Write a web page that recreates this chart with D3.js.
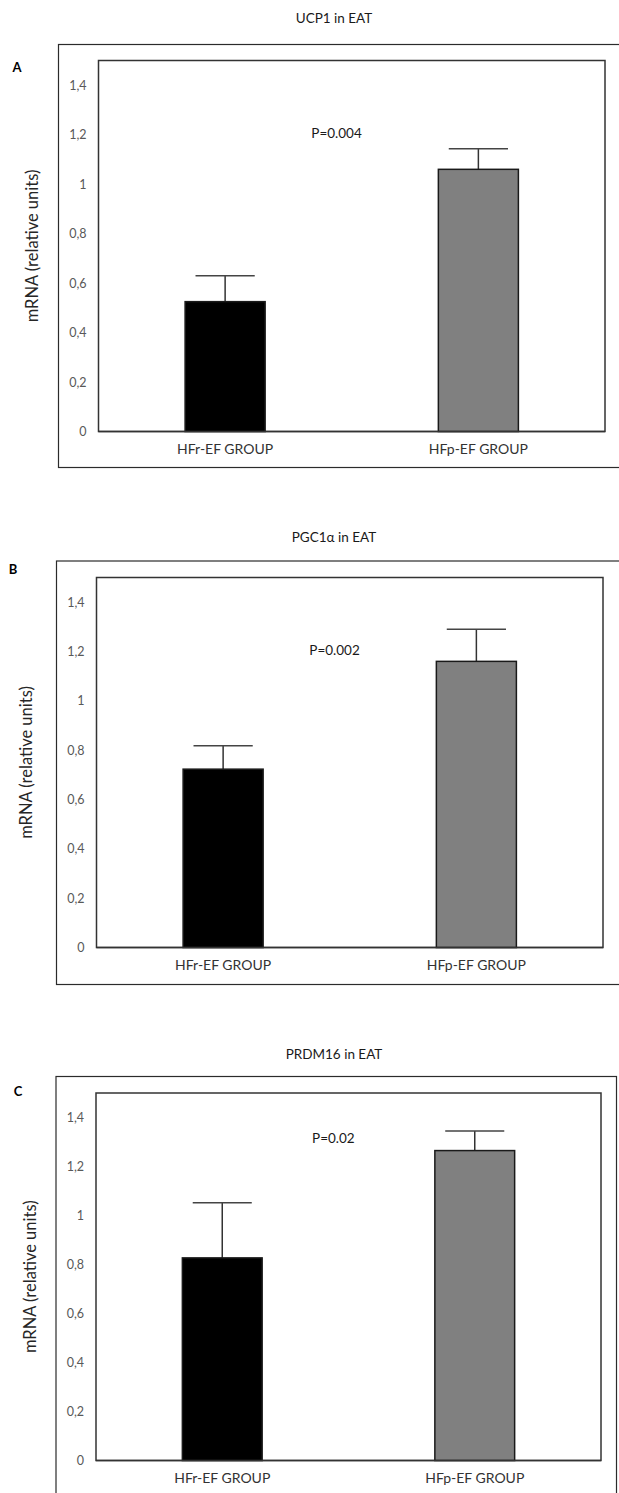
<!DOCTYPE html>
<html>
<head>
<meta charset="utf-8">
<script src="https://cdn.jsdelivr.net/npm/d3@7"></script>
<style>
  body { margin: 0; background: #fff; }
  svg { display: block; font-family: Lato, "Open Sans", sans-serif; }
</style>
</head>
<body>
<div id="chart"></div>
<script>
const width = 619,
  height = 1493;

/* DATA */
const panelLetters = ["A", "B", "C"];
const titles = ["UCP1 in EAT", "PGC1\u03b1 in EAT", "PRDM16 in EAT"];
const groups = ["HFr-EF GROUP", "HFp-EF GROUP"];
const means = [
  [0.525, 1.06],
  [0.723, 1.16],
  [0.827, 1.265]
];
const errors = [
  [0.105, 0.083],
  [0.095, 0.13],
  [0.225, 0.08]
];
const pLabels = ["P=0.004", "P=0.002", "P=0.02"];
const pLabelValue = [1.2, 1.2, 1.31];
const yTicks = [0, 0.2, 0.4, 0.6, 0.8, 1, 1.2, 1.4];
const yLabel = "mRNA (relative units)";
const barColors = ["#000000", "#808080"];

/* LAYOUT (pixel boxes of each panel) */
const layout = [
  { outer: [58.5, 44.5, 640, 467.5], inner: [98.5, 60.5, 605, 431.5], letter: [17, 69], titleY: 20, ylabX: 34 },
  { outer: [56.5, 561, 640, 984.5], inner: [96.5, 577.5, 603, 947.5], letter: [13, 571], titleY: 539, ylabX: 28 },
  { outer: [56, 1076.5, 616.5, 1510], inner: [96, 1093, 601, 1460.5], letter: [18, 1093], titleY: 1056, ylabX: 32 }
];

const svg = d3.select("#chart")
  .append("svg")
  .attr("width", width)
  .attr("height", height);

panelLetters.forEach((letter, i) => {
  const L = layout[i];
  const [ox0, oy0, ox1, oy1] = L.outer;
  const [ix0, iy0, ix1, iy1] = L.inner;
  const g = svg.append("g");

  // scales
  const xScale = d3.scaleBand()
    .domain(groups)
    .range([ix0, ix1])
    .paddingInner(0.684)
    .paddingOuter(0.342);

  const yScale = d3.scaleLinear()
    .domain([0, 1.5])
    .range([iy1, iy0]);

  // outer frame
  g.append("rect")
    .attr("x", ox0).attr("y", oy0)
    .attr("width", ox1 - ox0).attr("height", oy1 - oy0)
    .attr("fill", "none")
    .attr("stroke", "#2b2b2b")
    .attr("stroke-width", 1.2);

  // title
  g.append("text")
    .attr("x", 334)
    .attr("y", L.titleY)
    .attr("text-anchor", "middle")
    .attr("dominant-baseline", "middle")
    .attr("font-size", 13.5)
    .attr("fill", "#1a1a1a")
    .text(titles[i]);

  // panel letter
  g.append("text")
    .attr("x", L.letter[0])
    .attr("y", L.letter[1])
    .attr("text-anchor", "middle")
    .attr("dominant-baseline", "middle")
    .attr("font-size", 13)
    .attr("font-weight", "bold")
    .attr("fill", "#000")
    .text(letter);

  // y axis tick labels
  const yAxis = d3.axisLeft(yScale)
    .tickValues(yTicks)
    .tickSize(0)
    .tickPadding(12)
    .tickFormat(d => String(d).replace(".", ","));

  const yAxisGroup = g.append("g")
    .attr("transform", `translate(${ix0}, 0)`)
    .call(yAxis);
  yAxisGroup.select(".domain").remove();
  yAxisGroup.selectAll("text")
    .attr("font-family", "Lato, sans-serif")
    .attr("font-size", 12.5)
    .attr("fill", "#595959");

  // y axis title
  g.append("text")
    .attr("transform", `translate(${L.ylabX}, ${(iy0 + iy1) / 2}) rotate(-90)`)
    .attr("text-anchor", "middle")
    .attr("dominant-baseline", "middle")
    .attr("font-size", 16.5)
    .attr("fill", "#262626")
    .text(yLabel);

  // inner plot frame
  g.append("rect")
    .attr("x", ix0).attr("y", iy0)
    .attr("width", ix1 - ix0).attr("height", iy1 - iy0)
    .attr("fill", "none")
    .attr("stroke", "#333")
    .attr("stroke-width", 1.5);

  // x category labels
  const xAxis = d3.axisBottom(xScale)
    .tickSize(0)
    .tickPadding(13);
  const xAxisGroup = g.append("g")
    .attr("transform", `translate(0, ${iy1})`)
    .call(xAxis);
  xAxisGroup.select(".domain").remove();
  xAxisGroup.selectAll("text")
    .attr("font-family", "Lato, sans-serif")
    .attr("font-size", 14)
    .attr("fill", "#333");

  const rows = groups.map((grp, j) => ({ grp, mean: means[i][j], err: errors[i][j], color: barColors[j] }));

  // error bars (upper only)
  const capW = xScale.bandwidth() * 0.74;
  g.selectAll(".err")
    .data(rows)
    .join("line")
    .attr("class", "err")
    .attr("x1", d => xScale(d.grp) + xScale.bandwidth() / 2)
    .attr("x2", d => xScale(d.grp) + xScale.bandwidth() / 2)
    .attr("y1", d => yScale(d.mean))
    .attr("y2", d => yScale(d.mean + d.err))
    .attr("stroke", "#333")
    .attr("stroke-width", 1.5);

  g.selectAll(".cap")
    .data(rows)
    .join("line")
    .attr("class", "cap")
    .attr("x1", d => xScale(d.grp) + xScale.bandwidth() / 2 - capW / 2)
    .attr("x2", d => xScale(d.grp) + xScale.bandwidth() / 2 + capW / 2)
    .attr("y1", d => yScale(d.mean + d.err))
    .attr("y2", d => yScale(d.mean + d.err))
    .attr("stroke", "#444")
    .attr("stroke-width", 1.5);

  // bars
  g.selectAll(".bar")
    .data(rows)
    .join("rect")
    .attr("class", "bar")
    .attr("x", d => xScale(d.grp))
    .attr("y", d => yScale(d.mean))
    .attr("width", xScale.bandwidth())
    .attr("height", d => yScale(0) - yScale(d.mean))
    .attr("fill", d => d.color)
    .attr("stroke", "#1a1a1a")
    .attr("stroke-width", 1.5);

  // bottom axis line redrawn over bars
  g.append("line")
    .attr("x1", ix0).attr("x2", ix1)
    .attr("y1", iy1).attr("y2", iy1)
    .attr("stroke", "#333")
    .attr("stroke-width", 1.5);

  // p value
  g.append("text")
    .attr("x", ix0 + (ix1 - ix0) * 0.47)
    .attr("y", yScale(pLabelValue[i]))
    .attr("text-anchor", "middle")
    .attr("dominant-baseline", "middle")
    .attr("font-size", 13.5)
    .attr("fill", "#1a1a1a")
    .text(pLabels[i]);
});
</script>
</body>
</html>
